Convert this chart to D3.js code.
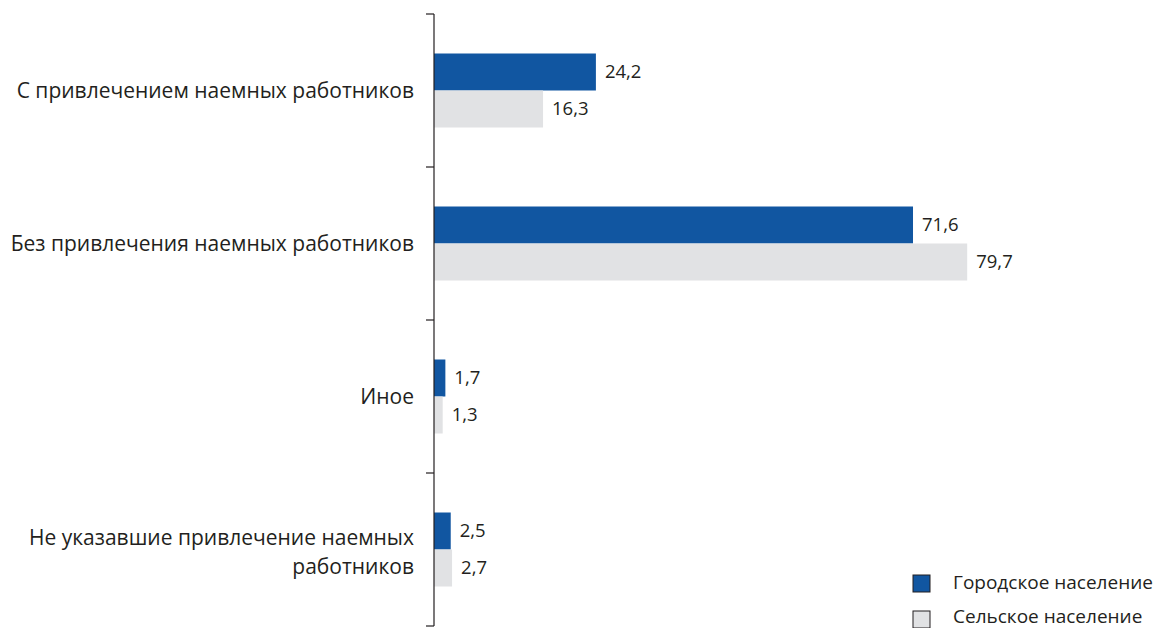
<!DOCTYPE html>
<html>
<head>
<meta charset="utf-8">
<script src="https://cdn.jsdelivr.net/npm/d3@7"></script>
<style>
  body { margin: 0; background: #fff; }
  text { font-family: "Open Sans", "Noto Sans", sans-serif; fill: #231f20; }
</style>
</head>
<body>
<svg id="chart" width="1153" height="628"></svg>
<script>
var categories = [
    ["С привлечением наемных работников"],
    ["Без привлечения наемных работников"],
    ["Иное"],
    ["Не указавшие привлечение наемных", "работников"]
];
var seriesNames = ["Городское население", "Сельское население"];
var urban = [24.2, 71.6, 1.7, 2.5];
var rural = [16.3, 79.7, 1.3, 2.7];

var colors = ["#1156a1", "#e1e2e4"];

var svg = d3.select("#chart"),
    margin = {top: 14, left: 434},
    height = 612;

var y = d3.scaleBand()
    .domain(d3.range(categories.length))
    .range([margin.top, margin.top + height]);

var x = d3.scaleLinear().domain([0, 100]).range([margin.left, margin.left + 669]);

var barH = 37;
var series = [urban, rural];

series.forEach(function(vals, s) {
    svg.append("g").selectAll("rect")
        .data(vals)
        .enter().append("rect")
        .attr("x", x(0))
        .attr("y", function(d, i) { return y(i) + y.bandwidth() / 2 - barH + s * barH; })
        .attr("width", function(d) { return x(d) - x(0); })
        .attr("height", barH)
        .attr("fill", colors[s]);

    svg.append("g").selectAll("text")
        .data(vals)
        .enter().append("text")
        .attr("x", function(d) { return x(d) + 9; })
        .attr("y", function(d, i) { return y(i) + y.bandwidth() / 2 - barH + s * barH + barH / 2; })
        .attr("dy", "0.35em")
        .attr("font-size", 18.5)
        .text(function(d) { return d.toFixed(1).replace(".", ","); });
});

// axis with ticks at band boundaries
var axis = svg.append("g");
axis.append("line")
    .attr("x1", x(0)).attr("x2", x(0))
    .attr("y1", margin.top).attr("y2", margin.top + height)
    .attr("stroke", "#231f20").attr("stroke-width", 1.2);
var bounds = d3.range(categories.length + 1).map(function(i) { return margin.top + i * y.step(); });
axis.selectAll(".tick").data(bounds).enter().append("line")
    .attr("x1", x(0) - 8).attr("x2", x(0))
    .attr("y1", function(d) { return d; }).attr("y2", function(d) { return d; })
    .attr("stroke", "#231f20").attr("stroke-width", 1.2);

// category labels
var lbl = svg.append("g").selectAll("text")
    .data(categories)
    .enter().append("text")
    .attr("x", 414)
    .attr("y", function(d, i) { return y(i) + y.bandwidth() / 2 - (d.length - 1) * 12; })
    .attr("text-anchor", "end")
    .attr("font-size", 21);
lbl.selectAll("tspan")
    .data(function(d) { return d; })
    .enter().append("tspan")
    .attr("x", 414)
    .attr("dy", function(d, j) { return j === 0 ? "0.35em" : 29; })
    .text(function(d) { return d; });

// legend
var legend = svg.append("g");
seriesNames.forEach(function(name, i) {
    legend.append("rect")
        .attr("x", 913).attr("y", 575 + i * 36)
        .attr("width", 17).attr("height", 17)
        .attr("fill", colors[i])
        .attr("stroke", "#231f20").attr("stroke-width", 1);
    legend.append("text")
        .attr("x", 953).attr("y", 582 + i * 34)
        .attr("dy", "0.35em")
        .attr("font-size", 19)
        .text(name);
});
</script>
</body>
</html>
